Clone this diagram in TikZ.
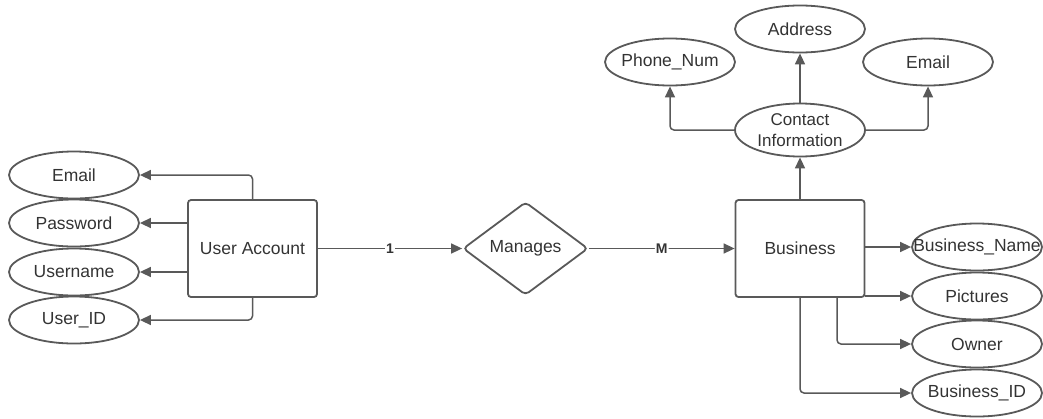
\documentclass[tikz,border=0pt]{standalone}
\usepackage{fontspec}
\setmainfont{Liberation Sans}
\usetikzlibrary{arrows.meta,shapes.geometric}
\definecolor{ln}{HTML}{595959}
\definecolor{tx}{HTML}{333333}
\begin{document}
\begin{tikzpicture}[x=1pt,y=-1pt,
  every node/.style={text=tx,font=\fontsize{17.5}{19}\selectfont},
  attr/.style={ellipse,draw=ln,line width=1.8pt,minimum width=130pt,minimum height=47pt,inner sep=0pt},
  ent/.style={rectangle,draw=ln,line width=1.8pt,rounded corners=3pt,minimum width=129pt,minimum height=97pt},
  rel/.style={diamond,draw=ln,line width=1.8pt,rounded corners=4pt,minimum width=125pt,minimum height=93pt,inner sep=0pt},
  conn/.style={draw=ln,line width=1.5pt,rounded corners=4pt,-{Triangle[length=11pt,width=10pt]}},
  card/.style={fill=white,inner sep=1pt,font=\bfseries\fontsize{14}{15}\selectfont}]
\useasboundingbox (0,0) rectangle (1043,418);
% left side
\node[ent] (ua) at (252.5,248.5) {User Account};
\node[attr] (em1) at (74,175) {Email};
\node[attr] (pw) at (74,223) {Password};
\node[attr] (un) at (74,272) {Username};
\node[attr] (uid) at (74,320) {User\_ID};
\draw[conn] (ua.north) |- (em1.east);
\draw[conn] (ua.west |- pw) -- (pw.east);
\draw[conn] (ua.west |- un) -- (un.east);
\draw[conn] (ua.south) |- (uid.east);
% relationship
\node[rel] (mg) at (525.5,248.5) {Manages};
\node[ent] (bz) at (800,248.5) {Business};
\draw[conn] (ua.east) -- node[card] {1} (mg.west);
\draw[conn] (mg.east) -- node[card] {M} (bz.west);
% contact
\node[attr,minimum height=53pt,align=center,font=\fontsize{17}{21}\selectfont] (ci) at (800,130) {Contact\\Information};
\node[attr] (ad) at (800,29) {Address};
\node[attr,label={center:Phone\_Num}] (ph) at (670,62) {};
\node[attr] (em2) at (928,62) {Email};
\draw[conn] (bz.north) -- (ci.south);
\draw[conn] (ci.north) -- (ad.south);
\draw[conn] (ci.west) -| (ph.south);
\draw[conn] (ci.east) -| (em2.south);
% business attributes
\node[attr,label={center:Business\_Name}] (bn) at (977,247) {};
\node[attr] (pic) at (977,296) {Pictures};
\node[attr] (ow) at (977,344) {Owner};
\node[attr,label={center:Business\_ID}] (bid) at (977,393) {};
\draw[conn] (bz.east |- bn) -- (bn.west);
\draw[conn] (bz.east |- pic) -- (pic.west);
\coordinate (owo) at (837,297);
\draw[conn] (owo) |- (ow.west);
\draw[conn] (bz.south) |- (bid.west);
\end{tikzpicture}
\end{document}
